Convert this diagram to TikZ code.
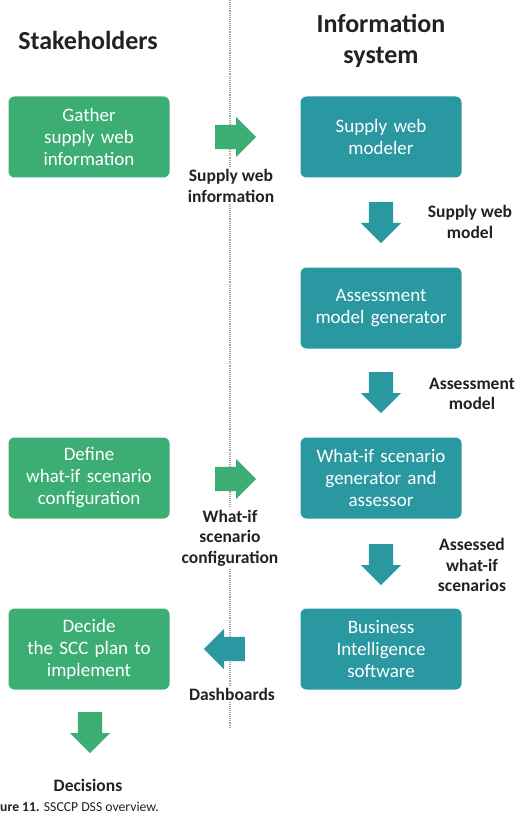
\documentclass[tikz,border=0pt]{standalone}
\usepackage{fontspec}
\setmainfont{Carlito}
\usetikzlibrary{shapes.arrows,positioning}
\definecolor{sgreen}{RGB}{60,174,115}
\definecolor{steal}{RGB}{41,152,160}
\definecolor{labtext}{RGB}{34,34,34}

\begin{document}
\begin{tikzpicture}[x=1pt,y=-1pt]
\tikzstyle{box}=[rectangle,rounded corners=6pt,minimum width=161pt,minimum height=81pt,text width=156pt,align=center,text=white,font=\fontsize{19}{22}\selectfont,inner sep=0pt]
\tikzstyle{stake}=[box,fill=sgreen]
\tikzstyle{sys}=[box,fill=steal]
\tikzstyle{blockarrow}=[single arrow,minimum height=41pt,inner xsep=0pt,inner ysep=12pt,single arrow head extend=8pt,anchor=tail,draw=none]
\tikzstyle{downarrow}=[blockarrow,shape border rotate=270,inner xsep=12pt,inner ysep=0pt]
\tikzstyle{flow}=[fill=white,text=labtext,align=center,font=\fontsize{17.5}{20.5}\selectfont\bfseries,inner sep=2pt]
\tikzstyle{title}=[align=center,font=\fontsize{26}{31}\selectfont\bfseries,text=labtext]

\useasboundingbox (0,0) rectangle (519,837);
\draw[gray!70,densely dotted,line width=1.1pt] (230,0) -- (230,727);

% titles
\node[title] (tStake) at (88,40) {Stakeholders};
\node[title] (tSys) at (381,41) {Information\\system};

% boxes
\node[stake] (gather) at (89,137) {Gather\\supply web\\information};
\node[sys] (modeler) at (381,137) {Supply web\\modeler};
\node[sys] (amgen) at (381,308) {Assessment\\model generator};
\node[stake] (define) at (89,478) {Define\\what-if scenario\\configuration};
\node[sys] (whatif) at (381,478) {What-if scenario\\generator and\\assessor};
\node[stake] (decide) at (89,649) {Decide\\the SCC plan to\\implement};
\node[sys] (bisoft) at (381,649) {Business\\Intelligence\\software};

% block arrows
\node[blockarrow,fill=sgreen] (aInfo) at (215,137) {};
\node[blockarrow,fill=sgreen] (aConf) at (215,479) {};
\node[blockarrow,fill=steal,shape border rotate=180] (aDash) at (245,649) {};
\node[downarrow,fill=steal] (aModel) at (381,202) {};
\node[downarrow,fill=steal] (aAssess) at (381,372) {};
\node[downarrow,fill=steal] (aScen) at (381,544) {};
\node[downarrow,fill=sgreen] (aDecide) at (90,712) {};

% flow labels
\node[flow] (lInfo) at (231,186) {Supply web\\information};
\node[flow] (lConf) at (230,538) {What-if\\scenario\\configuration};
\node[flow] (lDash) at (232,694) {Dashboards};
\node[flow] (lModel) at (470,222) {Supply web\\model};
\node[flow] (lAssess) at (472,394) {Assessment\\model};
\node[flow] (lScen) at (472,565) {Assessed\\what-if\\scenarios};
\node[flow] (lDecisions) at (88,785) {Decisions};

\node[anchor=west,inner sep=0pt,font=\fontsize{13.7}{16}\selectfont,text=labtext] (caption) at (0,807) {\textbf{ure 11.} SSCCP DSS overview.};
\end{tikzpicture}
\end{document}
